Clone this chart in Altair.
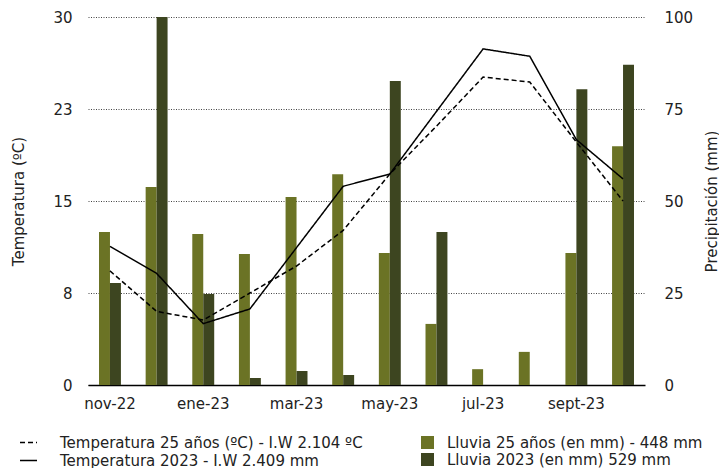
import altair as alt
import pandas as pd

months = ["nov-22", "dic-22", "ene-23", "feb-23", "mar-23", "abr-23",
          "may-23", "jun-23", "jul-23", "ago-23", "sept-23", "oct-23"]
temp_25 = [9.3, 6.0, 5.3, 7.5, 9.7, 12.6, 17.2, 21.1, 25.1, 24.7, 19.8, 15.0]
temp_2023 = [11.3, 9.1, 5.0, 6.2, 11.2, 16.2, 17.2, 22.3, 27.4, 26.8, 20.0, 16.8]
rain_25 = [41.6, 53.8, 41.0, 35.6, 51.1, 57.3, 35.9, 16.6, 4.3, 9.0, 35.9, 64.9]
rain_2023 = [27.7, 100.0, 24.7, 1.9, 3.8, 2.7, 82.6, 41.6, 0.0, 0.0, 80.4, 87.0]

temp_series = ["Temperatura 25 años (ºC) - I.W 2.104 ºC", "Temperatura 2023 - I.W 2.409 mm"]
rain_series = ["Lluvia 25 años (en mm) - 448 mm", "Lluvia 2023 (en mm) 529 mm"]
x_labels = ["nov-22", "ene-23", "mar-23", "may-23", "jul-23", "sept-23"]
temp_ticks = [0, 7.5, 15, 22.5, 30]
rain_ticks = [0, 25, 50, 75, 100]
rain_colors = ["#6b7325", "#3d4520"]

FONT = "DejaVu Sans"
FS = 15
TXT = "#222222"

rain_df = pd.DataFrame({
    "month": months * 2,
    "serie": [rain_series[0]] * len(months) + [rain_series[1]] * len(months),
    "mm": rain_25 + rain_2023,
})
temp_df = pd.DataFrame({
    "month": months * 2,
    "serie": [temp_series[0]] * len(months) + [temp_series[1]] * len(months),
    "temp": temp_25 + temp_2023,
})

x_enc = alt.X(
    "month:N", sort=months,
    scale=alt.Scale(domain=months, paddingInner=0.53, paddingOuter=0.236),
    axis=alt.Axis(title=None, values=x_labels, labelAngle=0, ticks=False,
                  domain=True, domainColor="black", domainWidth=1.5,
                  labelPadding=11, grid=False),
)

bars = alt.Chart(rain_df).mark_bar(clip=True).encode(
    x=x_enc,
    xOffset=alt.XOffset("serie:N", sort=rain_series,
                        scale=alt.Scale(domain=rain_series, paddingInner=0, paddingOuter=0)),
    y=alt.Y("mm:Q", scale=alt.Scale(domain=[0, 100], nice=False),
            axis=alt.Axis(orient="right", values=rain_ticks, title="Precipitación (mm)",
                          domain=False, ticks=False, grid=False, labelPadding=19,
                          titleAngle=270, titleX=66, titleY=184, titleAlign="center",
                          titleBaseline="middle")),
    color=alt.Color("serie:N", sort=rain_series,
                    scale=alt.Scale(domain=rain_series, range=rain_colors),
                    legend=alt.Legend(title=None, orient="none", legendX=332, legendY=418,
                                      symbolType="square", symbolSize=169,
                                      symbolStrokeWidth=0, labelOffset=12,
                                      rowPadding=1, labelLimit=400)),
)

lines = alt.Chart(temp_df).mark_line(color="black", strokeWidth=1.5).encode(
    x=x_enc,
    y=alt.Y("temp:Q", scale=alt.Scale(domain=[0, 30], nice=False),
            axis=alt.Axis(orient="left", values=temp_ticks, format=".0f",
                          title="Temperatura (ºC)", domain=False, ticks=False,
                          grid=True, gridDash=[1, 1.5], gridColor="#444444",
                          gridWidth=1, labelPadding=16,
                          titleAngle=270, titleX=-70, titleY=184, titleAlign="center",
                          titleBaseline="middle")),
    strokeDash=alt.StrokeDash("serie:N", sort=temp_series,
                              scale=alt.Scale(domain=temp_series, range=[[5, 3], [1, 0]]),
                              legend=alt.Legend(title=None, orient="none", legendX=-69, legendY=416,
                                                symbolType="stroke", symbolSize=289,
                                                symbolStrokeWidth=1.5, symbolStrokeColor="black",
                                                labelOffset=22, rowPadding=0, labelLimit=400)),
)

chart = alt.layer(bars, lines).resolve_scale(
    y="independent", color="independent", strokeDash="independent"
).properties(
    width=557, height=368,
    autosize=alt.AutoSizeParams(type="none"),
    padding={"left": 80, "top": 9, "right": 74, "bottom": 83},
).configure_view(stroke=None).configure_axis(
    labelFont=FONT, titleFont=FONT, labelFontSize=FS, titleFontSize=FS,
    labelColor=TXT, titleColor=TXT, titleFontWeight="normal",
).configure_legend(
    labelFont=FONT, labelFontSize=FS, labelColor=TXT,
)

chart.save("out.html", embed_options={"renderer": "svg", "actions": False})
